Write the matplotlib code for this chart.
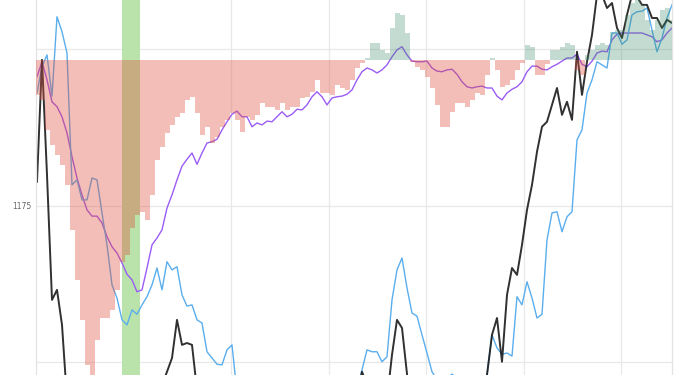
import matplotlib.pyplot as plt
from matplotlib.colors import to_rgba
import numpy as np

# spread bars, drawn from a common baseline (negative = red, positive = green)
bar_base = 1198.3
spread = [
    -5.6, -6.4, -11.2, -13.6, -15.2, -16.8, -20.0, -27.2, -35.2, -41.6,
    -48.8, -51.2, -44.8, -41.3, -41.3, -40.0, -36.8, -32.3, -31.2, -26.9,
    -24.8, -24.3, -25.6, -21.6, -16.0, -13.9, -11.7, -10.4, -9.1, -8.5,
    -6.4, -5.9, -8.5, -12.0, -10.7, -13.3, -12.3, -10.7, -9.6, -8.5,
    -9.6, -11.5, -9.1, -9.6, -8.8, -6.9, -7.5, -7.5, -8.0, -6.9,
    -8.0, -7.5, -7.5, -6.1, -5.9, -5.1, -3.2, -5.3, -5.3, -5.6,
    -4.0, -4.5, -4.8, -3.2, -1.3, -0.5, 0.3, 2.7, 2.7, 1.6,
    1.1, 5.1, 7.5, 7.2, 4.3, -0.3, -1.1, -1.6, -2.7, -4.5,
    -7.2, -10.7, -10.7, -8.3, -6.9, -6.9, -7.5, -6.4, -5.3, -5.6,
    -2.4, 0.3, -1.6, -4.3, -4.0, -3.2, -1.6, -0.5, 2.4, 2.1,
    -2.4, -2.4, -0.6, 1.6, 1.6, 2.1, 2.7, 2.4, -1.6, -2.4,
    0.8, 1.6, 2.4, 2.7, 2.4, 4.5, 4.8, 4.8, 7.2, 9.1,
    9.6, 8.8, 6.4, 4.8, 6.4, 8.0, 8.3, 6.4,
]

purple_line = [
    1195.6, 1198.0, 1195.1, 1191.6, 1190.8, 1189.2, 1186.6, 1182.8, 1179.4, 1176.7,
    1174.3, 1173.3, 1173.3, 1172.2, 1170.0, 1168.4, 1167.4, 1165.8, 1164.0, 1163.1,
    1161.2, 1161.5, 1165.0, 1168.7, 1169.8, 1171.1, 1174.6, 1176.7, 1179.1, 1181.3,
    1182.4, 1183.4, 1181.6, 1183.4, 1185.0, 1185.2, 1185.6, 1187.1, 1188.4, 1189.6,
    1190.1, 1189.2, 1189.2, 1187.6, 1188.2, 1187.9, 1188.5, 1188.4, 1189.2, 1190.0,
    1189.2, 1189.6, 1190.4, 1190.3, 1191.1, 1192.4, 1193.2, 1192.4, 1191.1, 1192.2,
    1192.4, 1192.5, 1192.8, 1193.5, 1195.1, 1196.4, 1197.0, 1196.7, 1196.2, 1196.7,
    1197.5, 1198.8, 1199.9, 1200.4, 1199.1, 1198.1, 1198.0, 1198.0, 1198.1, 1197.0,
    1196.5, 1196.4, 1196.7, 1196.8, 1196.0, 1194.8, 1194.0, 1193.8, 1194.0, 1194.1,
    1193.8, 1193.8, 1192.5, 1191.9, 1193.0, 1193.6, 1194.0, 1194.8, 1196.4, 1197.3,
    1197.3, 1196.8, 1196.7, 1197.2, 1197.6, 1198.1, 1198.6, 1198.6, 1199.2, 1197.6,
    1197.2, 1198.1, 1199.4, 1199.7, 1199.6, 1201.5, 1202.4, 1202.6, 1202.6, 1202.6,
    1202.6, 1202.6, 1202.3, 1202.0, 1201.2, 1201.5, 1202.6, 1203.4,
]

blue_line = [
    1193.0, 1197.2, 1199.1, 1192.5, 1205.2, 1202.8, 1199.4, 1178.3, 1179.1, 1175.9,
    1175.9, 1179.4, 1179.1, 1173.8, 1168.7, 1162.3, 1160.2, 1156.7, 1155.9, 1158.3,
    1157.6, 1159.1, 1160.4, 1162.3, 1165.0, 1161.5, 1166.0, 1164.7, 1165.2, 1160.7,
    1158.9, 1159.1, 1156.7, 1156.2, 1151.6, 1150.6, 1149.6, 1149.5, 1151.9, 1152.7,
    1145.0, 1144.5, 1145.0, 1145.0, 1144.5, 1145.0, 1145.0, 1145.0, 1144.5, 1145.0,
    1145.0, 1144.5, 1145.0, 1145.0, 1144.5, 1145.0, 1145.0, 1144.5, 1145.0, 1145.0,
    1145.0, 1144.5, 1145.0, 1145.0, 1145.5, 1148.7, 1151.9, 1151.6, 1151.6, 1150.0,
    1150.8, 1159.9, 1164.7, 1166.6, 1161.8, 1157.8, 1157.3, 1154.3, 1151.4, 1148.4,
    1147.1, 1147.1, 1147.4, 1148.0, 1147.4, 1146.8, 1146.3, 1145.5, 1145.5, 1145.8,
    1147.9, 1154.3, 1152.2, 1151.2, 1151.4, 1150.9, 1160.4, 1159.1, 1162.8, 1160.2,
    1157.0, 1157.6, 1169.5, 1173.8, 1174.0, 1170.8, 1173.2, 1174.0, 1185.5, 1187.1,
    1193.0, 1195.1, 1198.0, 1197.5, 1197.0, 1202.6, 1202.6, 1200.8, 1201.5, 1205.5,
    1206.0, 1206.1, 1206.6, 1203.1, 1199.6, 1201.8, 1205.0, 1207.1,
]

black_line = [
    1178.8, 1198.3, 1179.9, 1159.9, 1161.5, 1155.9, 1144.0, 1144.0, 1144.0, 1144.0,
    1144.0, 1144.0, 1144.0, 1144.0, 1144.0, 1144.0, 1144.0, 1144.0, 1144.0, 1144.0,
    1144.0, 1144.0, 1144.0, 1144.0, 1144.0, 1146.3, 1148.4, 1150.6, 1156.7, 1152.7,
    1153.0, 1152.7, 1145.5, 1144.0, 1144.0, 1144.0, 1144.0, 1144.0, 1144.0, 1144.0,
    1144.0, 1144.0, 1144.0, 1144.0, 1144.0, 1144.0, 1144.0, 1144.0, 1144.0, 1144.0,
    1144.0, 1144.0, 1144.0, 1144.0, 1144.0, 1144.0, 1144.0, 1144.0, 1144.0, 1144.0,
    1144.0, 1144.0, 1144.0, 1144.0, 1144.0, 1148.4, 1146.3, 1144.0, 1144.0, 1144.0,
    1144.0, 1151.1, 1156.7, 1155.4, 1147.9, 1144.0, 1144.0, 1144.0, 1144.0, 1144.0,
    1144.0, 1144.0, 1144.0, 1144.0, 1144.0, 1144.0, 1144.0, 1144.0, 1144.0, 1144.0,
    1147.9, 1154.3, 1157.0, 1150.0, 1160.7, 1165.0, 1163.9, 1168.7, 1174.3, 1178.3,
    1183.6, 1187.6, 1188.4, 1191.1, 1193.8, 1189.5, 1191.6, 1188.7, 1199.6, 1192.7,
    1198.0, 1202.3, 1208.7, 1208.7, 1206.6, 1207.4, 1203.4, 1201.8, 1205.5, 1208.7,
    1208.4, 1207.1, 1207.1, 1205.0, 1205.0, 1203.4, 1204.7, 1204.2,
]

y_ticks = [1150, 1175, 1200]
y_labels = ['', '1175', '']
x_grid = [19.3, 38.8, 58.3, 77.8, 97.3, 116.8]
band_start, band_end = 17.0, 20.6

x = np.arange(len(spread))
spread = np.array(spread)

fig = plt.figure(figsize=(6.85, 3.75), dpi=100)
ax = fig.add_axes([36 / 685, 0, 636 / 685, 1])

ax.axvspan(band_start, band_end, color='#b9e3aa', linewidth=0, zorder=1)

ax.plot(x, purple_line, color='#9b5cf6', lw=1.0, zorder=2)
ax.plot(x, blue_line, color='#5aaeee', lw=1.0, zorder=2)
ax.plot(x, black_line, color='#1a1a1a', lw=1.4, alpha=0.9, zorder=2)

red = to_rgba('#e0503d', 0.37)
green = to_rgba('#3d8a68', 0.3)
colors = [red if v < 0 else green for v in spread]
ax.bar(x, spread, bottom=bar_base, width=1.0, color=colors, linewidth=0, zorder=3)

ax.set_xlim(-0.2, 127)
ax.set_ylim(1147.88, 1207.88)
ax.set_xticks(x_grid)
ax.set_xticklabels([])
ax.set_yticks(y_ticks, y_labels)
ax.tick_params(axis='both', length=0)
ax.tick_params(axis='y', pad=3, labelsize=5.5, labelcolor='#666666')
ax.grid(color='#e8e8e8', linewidth=0.9, zorder=0)
ax.set_axisbelow(True)
for side in ['top', 'bottom']:
    ax.spines[side].set_visible(False)
for side in ['left', 'right']:
    ax.spines[side].set_color('#e3e3e3')
    ax.spines[side].set_linewidth(0.9)

fig.savefig('out.png', dpi=100)
